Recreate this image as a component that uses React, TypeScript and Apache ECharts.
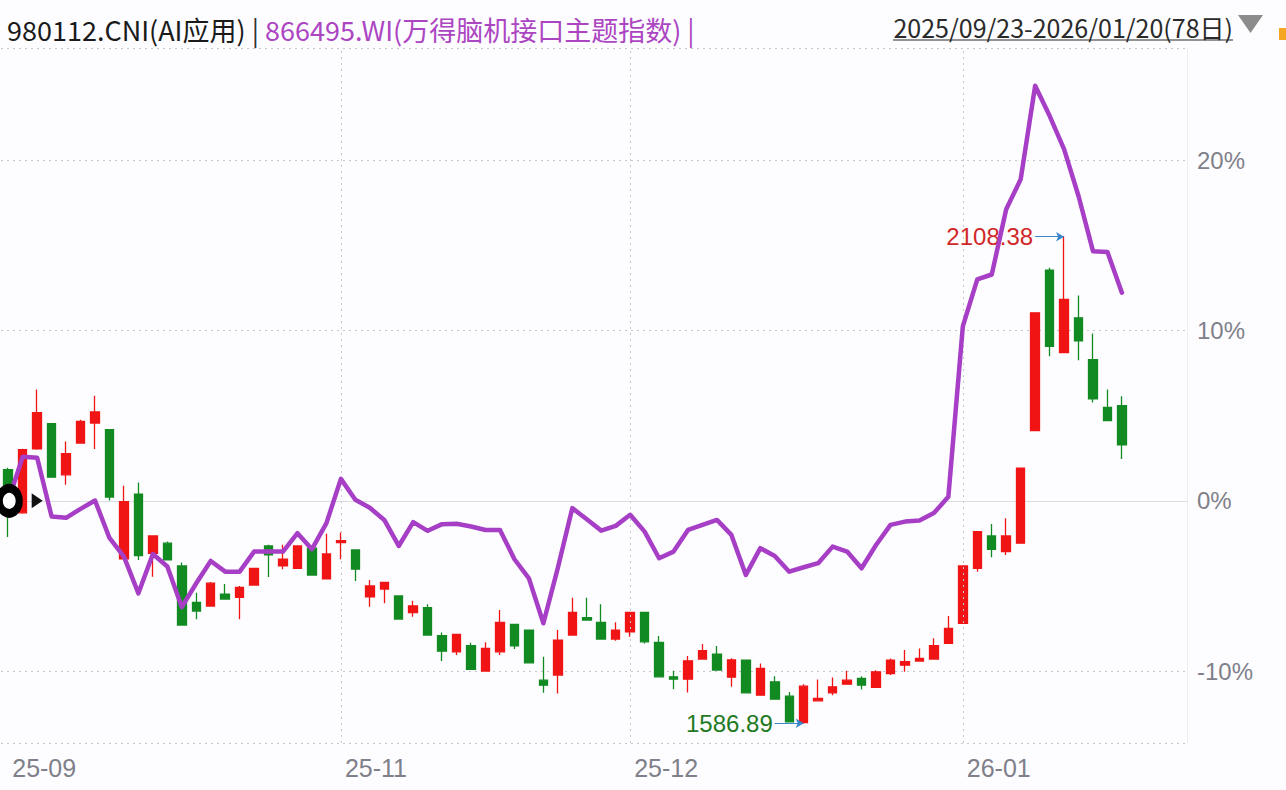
import React, { useEffect, useRef } from "react";
import * as echarts from "echarts";

// ---- data ----
const BASE_CLOSE = 1825.3; // close of the first day (0% reference)

const dates = [
  "2025-09-23", "2025-09-24", "2025-09-25", "2025-09-26", "2025-09-29", "2025-09-30",
  "2025-10-09", "2025-10-10", "2025-10-13", "2025-10-14", "2025-10-15", "2025-10-16", "2025-10-17",
  "2025-10-20", "2025-10-21", "2025-10-22", "2025-10-23", "2025-10-24", "2025-10-27", "2025-10-28",
  "2025-10-29", "2025-10-30", "2025-10-31",
  "2025-11-03", "2025-11-04", "2025-11-05", "2025-11-06", "2025-11-07", "2025-11-10", "2025-11-11",
  "2025-11-12", "2025-11-13", "2025-11-14", "2025-11-17", "2025-11-18", "2025-11-19", "2025-11-20",
  "2025-11-21", "2025-11-24", "2025-11-25", "2025-11-26", "2025-11-27", "2025-11-28",
  "2025-12-01", "2025-12-02", "2025-12-03", "2025-12-04", "2025-12-05", "2025-12-08", "2025-12-09",
  "2025-12-10", "2025-12-11", "2025-12-12", "2025-12-15", "2025-12-16", "2025-12-17", "2025-12-18",
  "2025-12-19", "2025-12-22", "2025-12-23", "2025-12-24", "2025-12-25", "2025-12-26", "2025-12-29",
  "2025-12-30", "2025-12-31",
  "2026-01-05", "2026-01-06", "2026-01-07", "2026-01-08", "2026-01-09", "2026-01-12", "2026-01-13",
  "2026-01-14", "2026-01-15", "2026-01-16", "2026-01-19", "2026-01-20",
];
const blankSlots = [" ", "  ", "   ", "    "];

const openPrices = [
  1858.6, 1812.4, 1881.1, 1908.0, 1853.2, 1887.3, 1908.7, 1901.5, 1763.0, 1832.5,
  1769.1, 1779.9, 1755.5, 1716.5, 1712.6, 1725.4, 1721.9, 1735.1, 1777.0, 1755.5,
  1753.0, 1774.5, 1741.6, 1780.5, 1772.7, 1722.5, 1730.8, 1723.3, 1705.4, 1710.7,
  1680.7, 1663.5, 1670.0, 1642.8, 1663.5, 1692.9, 1686.8, 1633.1, 1638.5, 1681.4,
  1700.0, 1695.1, 1677.1, 1685.0, 1705.8, 1673.6, 1636.7, 1634.2, 1655.7, 1661.0,
  1636.3, 1654.6, 1617.0, 1631.3, 1615.9, 1587.5, 1610.9, 1619.5, 1628.8, 1634.9,
  1625.3, 1640.0, 1649.2, 1653.5, 1655.7, 1672.5, 1694.0, 1753.0, 1787.7, 1770.9,
  1779.9, 1900.5, 2072.6, 1984.2, 2021.5, 1976.7, 1925.5, 1927.3,
];
const closePrices = [
  1825.3, 1880.1, 1919.8, 1850.7, 1875.8, 1910.4, 1920.5, 1829.3, 1824.5, 1766.6,
  1787.7, 1762.0, 1692.2, 1707.2, 1737.0, 1720.1, 1732.6, 1753.0, 1767.3, 1762.7,
  1777.0, 1745.8, 1768.4, 1782.7, 1752.0, 1734.0, 1738.0, 1698.6, 1712.6, 1681.4,
  1664.2, 1682.2, 1644.6, 1667.2, 1695.1, 1670.0, 1651.7, 1627.7, 1676.1, 1705.8,
  1697.5, 1677.1, 1686.8, 1705.8, 1674.2, 1636.7, 1634.2, 1653.8, 1664.6, 1643.9,
  1654.9, 1619.5, 1645.7, 1612.7, 1588.3, 1626.7, 1613.5, 1626.0, 1633.1, 1627.7,
  1642.0, 1654.6, 1652.8, 1656.4, 1670.0, 1688.6, 1755.5, 1792.3, 1773.4, 1787.7,
  1860.4, 2026.8, 1991.0, 2041.1, 1996.9, 1934.5, 1911.2, 1885.4,
];
const lowPrices = [
  1786.6, 1811.5, 1880.0, 1850.0, 1842.5, 1887.0, 1880.8, 1825.6, 1762.5, 1762.0,
  1744.0, 1761.5, 1691.5, 1698.3, 1712.0, 1719.6, 1698.3, 1734.6, 1743.7, 1752.0,
  1752.6, 1745.3, 1741.0, 1762.7, 1739.4, 1711.8, 1715.5, 1698.0, 1701.1, 1681.0,
  1653.5, 1660.0, 1644.2, 1642.3, 1660.0, 1666.4, 1651.2, 1619.5, 1618.8, 1681.0,
  1697.0, 1676.7, 1675.3, 1679.6, 1672.5, 1636.2, 1623.4, 1619.9, 1655.2, 1643.4,
  1626.1, 1619.0, 1616.5, 1612.2, 1587.9, 1586.89, 1610.4, 1617.0, 1628.3, 1623.1,
  1624.8, 1638.5, 1642.0, 1653.0, 1655.2, 1672.0, 1693.5, 1749.4, 1764.9, 1767.3,
  1779.4, 1900.0, 1980.2, 1983.7, 1976.0, 1930.8, 1910.7, 1870.1,
];
const highPrices = [
  1860.7, 1881.0, 1944.5, 1908.5, 1889.0, 1912.3, 1938.0, 1902.0, 1841.4, 1845.0,
  1788.2, 1781.6, 1759.1, 1726.8, 1738.3, 1736.2, 1734.0, 1753.5, 1778.1, 1778.1,
  1777.5, 1775.0, 1789.9, 1791.3, 1773.2, 1740.5, 1738.5, 1723.8, 1718.3, 1714.4,
  1684.3, 1682.7, 1673.2, 1673.7, 1708.3, 1693.4, 1687.3, 1658.1, 1686.8, 1721.5,
  1721.5, 1714.4, 1695.1, 1706.3, 1706.3, 1680.4, 1643.1, 1658.9, 1671.8, 1669.6,
  1656.7, 1655.1, 1651.0, 1637.4, 1620.5, 1628.8, 1633.9, 1636.0, 1643.1, 1637.4,
  1643.8, 1656.4, 1665.3, 1667.1, 1677.9, 1701.8, 1756.0, 1792.8, 1800.6, 1806.7,
  1860.9, 2027.3, 2075.2, 2108.38, 2045.4, 2004.6, 1944.5, 1937.3,
];

// 866495.WI, % change since 2025-09-23
const themeIndexPct = [
  0, 2.59, 2.53, -0.92, -1.0, -0.47, 0.02, -2.18, -3.28, -5.43,
  -3.12, -3.86, -6.24, -4.84, -3.53, -4.16, -4.16, -2.98, -2.98, -2.98,
  -1.9, -2.84, -1.31, 1.29, 0.06, -0.41, -1.12, -2.65, -1.25, -1.76,
  -1.37, -1.35, -1.51, -1.71, -1.71, -3.43, -4.55, -7.19, -3.94, -0.43,
  -1.08, -1.75, -1.47, -0.82, -1.81, -3.37, -2.98, -1.71, -1.41, -1.12,
  -2.0, -4.35, -2.78, -3.24, -4.16, -3.9, -3.66, -2.69, -2.98, -3.96,
  -2.59, -1.41, -1.22, -1.16, -0.72, 0.24, 10.24, 13.0, 13.29, 17.12,
  18.88, 24.37, 22.61, 20.65, 17.9, 14.66, 14.61, 12.22,
];

const xLabelDates = ["2025-09-23", "2025-11-03", "2025-12-01", "2026-01-05"];
const xGridDates = ["2025-11-03", "2025-12-01", "2026-01-05"];

const highMark = { value: 2108.38, fromIdx: 71, toIdx: 73 };
const lowMark = { value: 1586.89, fromIdx: 53, toIdx: 55 };

const title1 = "980112.CNI(AI应用)";
const title2 = "866495.WI(万得脑机接口主题指数)";
const rangeText = "2025/09/23-2026/01/20(78日)";

// ---- styles ----
const RED = "#f01414";
const GREEN = "#128a22";
const PURPLE = "#a63ec6";
const FONT = '"Noto Sans CJK SC", "Noto Sans", sans-serif';
const AXIS_FONT = '"Liberation Sans", Arial, sans-serif';

export default function App() {
  const ref = useRef<HTMLDivElement>(null);

  useEffect(() => {
    document.body.style.margin = "0";
    const chart = echarts.init(ref.current as HTMLDivElement, null, { renderer: "svg" });
    const toPct = (p: number) => (p / BASE_CLOSE - 1) * 100;

    const candles = dates.map((_, i) => [
      toPct(openPrices[i]),
      toPct(closePrices[i]),
      toPct(lowPrices[i]),
      toPct(highPrices[i]),
    ]);

    const option: any = {
      animation: false,
      backgroundColor: "#fdfdff",
      grid: { left: 1, right: 99, top: 48, bottom: 47 },
      xAxis: {
        type: "category",
        data: [...dates, ...blankSlots],
        boundaryGap: true,
        axisLine: { show: true, lineStyle: { color: "#dcdde3", width: 1 } },
        axisTick: { show: false },
        splitLine: { show: false },
        axisLabel: {
          interval: (_i: number, v: string) => xLabelDates.includes(v),
          formatter: (v: string) => v.slice(2, 7),
          align: "left",
          padding: [0, 0, 0, 4],
          margin: 12,
          color: "#80808a",
          fontSize: 25,
          fontFamily: AXIS_FONT,
        },
      },
      yAxis: {
        type: "value",
        position: "right",
        min: -14.22,
        max: 26.59,
        splitNumber: 4,
        axisLine: { show: true, lineStyle: { color: "#eceef2" } },
        axisTick: { show: false },
        axisLabel: {
          formatter: (v: number) => `${Math.round(v)}%`,
          showMinLabel: false,
          showMaxLabel: false,
          margin: 10,
          color: "#80808a",
          fontSize: 24,
          fontFamily: AXIS_FONT,
        },
        splitLine: { show: true, lineStyle: { type: [2, 4], color: "#c4c6cc", width: 1 } },
      },
      series: [
        {
          type: "candlestick",
          data: candles,
          barWidth: 9,
          itemStyle: {
            color: RED,
            color0: GREEN,
            borderColor: RED,
            borderColor0: GREEN,
            borderWidth: 1.3,
          },
          markLine: {
            silent: true,
            symbol: ["none", "arrow"],
            symbolSize: [7, 8],
            lineStyle: { color: "#3a86c8", width: 1, type: "solid" },
            label: { show: true, position: "start", distance: 2, fontSize: 24, fontFamily: AXIS_FONT },
            data: [
              [
                {
                  coord: [highMark.fromIdx, toPct(highMark.value)],
                  label: { formatter: highMark.value.toFixed(2), color: "#d02828" },
                },
                { coord: [highMark.toIdx, toPct(highMark.value)] },
              ],
              [
                {
                  coord: [lowMark.fromIdx, toPct(lowMark.value)],
                  label: { formatter: lowMark.value.toFixed(2), color: "#1f7a1f" },
                },
                { coord: [lowMark.toIdx, toPct(lowMark.value)] },
              ],
            ],
          },
        },
        {
          type: "line",
          data: themeIndexPct,
          showSymbol: false,
          z: 5,
          lineStyle: { color: PURPLE, width: 4.5, cap: "round", join: "round" },
          markLine: {
            silent: true,
            symbol: "none",
            label: { show: false },
            lineStyle: { type: [2, 4], color: "#c4c6cc", width: 1 },
            data: xGridDates.map((d) => ({ xAxis: d })),
          },
          markPoint: {
            silent: true,
            label: { show: false },
            data: [
              {
                coord: [2, themeIndexPct[0]],
                symbol: "triangle",
                symbolRotate: -90,
                symbolSize: [15, 11],
                itemStyle: { color: "#111111" },
              },
            ],
          },
        },
        {
          // base-point marker (start of comparison)
          type: "scatter",
          z: 10,
          silent: true,
          data: [[0, themeIndexPct[0]]],
          symbol: "circle",
          symbolSize: [20, 25],
          symbolOffset: [1, 0],
          itemStyle: { color: "#ffffff", borderColor: "#000000", borderWidth: 8, opacity: 1 },
        },
      ],
      graphic: [
        {
          type: "text",
          x: 7,
          y: 29,
          style: {
            text: `{a|${title1}}{s| | }{b|${title2} |}`,
            verticalAlign: "middle",
            rich: {
              a: { fontSize: 27, fontFamily: FONT, fill: "#1a1a1a", color: "#1a1a1a" },
              s: { fontSize: 27, fontFamily: FONT, fill: "#333", color: "#333" },
              b: { fontSize: 27, fontFamily: FONT, fill: "#ac45c2", color: "#ac45c2" },
            },
          },
        },
        {
          type: "text",
          x: 1233,
          y: 27,
          style: {
            text: rangeText,
            align: "right",
            verticalAlign: "middle",
            fontSize: 25,
            fontFamily: FONT,
            fill: "#2a2a2a",
          },
        },
        {
          type: "line",
          shape: { x1: 893, y1: 40, x2: 1233, y2: 40 },
          style: { stroke: "#2a2a2a", lineWidth: 1.2 },
        },
        {
          type: "polygon",
          shape: { points: [[1238, 15], [1263, 15], [1250.5, 33]] },
          style: { fill: "#8c8c8c" },
        },
        {
          type: "rect",
          shape: { x: 1279, y: 28, width: 8, height: 12 },
          style: { fill: "#f5a623" },
        },
      ],
    };

    chart.setOption(option);
    return () => chart.dispose();
  }, []);

  return <div ref={ref} style={{ width: 1286, height: 790 }} />;
}
